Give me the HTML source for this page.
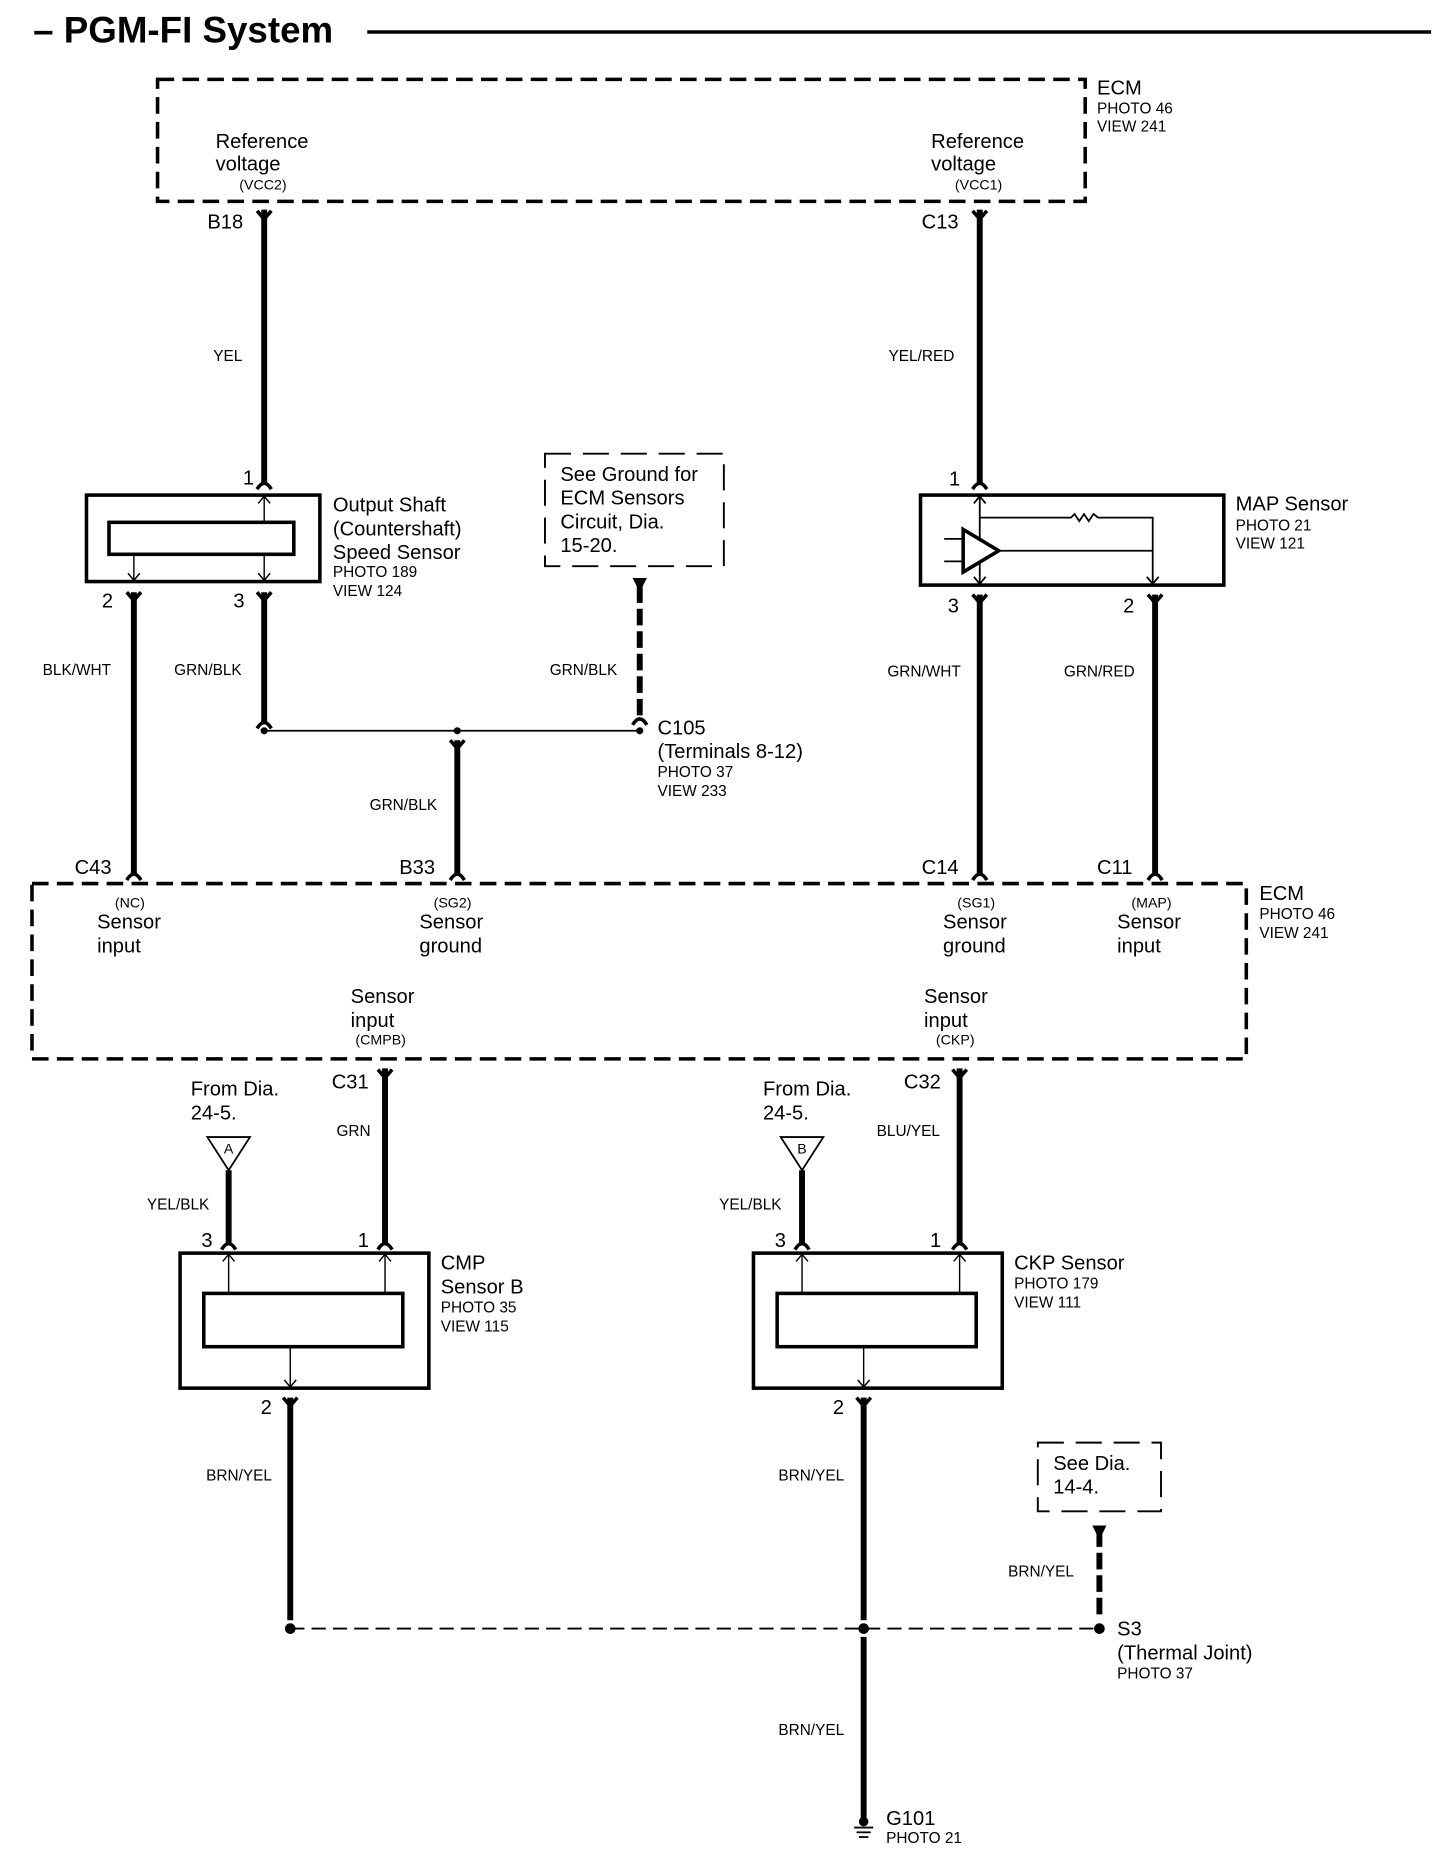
<!DOCTYPE html>
<html><head><style>
html,body{margin:0;padding:0;background:#fff;}
svg{display:block;}
text{font-family:"Liberation Sans",sans-serif;fill:#000;}
.b{font-size:17px;}
.s{font-size:13px;}
.xs{font-size:12px;}
</style></head><body>
<svg width="1456" height="1856" viewBox="0 0 1229 1567" preserveAspectRatio="none" xmlns="http://www.w3.org/2000/svg">
<defs>
<g id="fy"><path d="M-6,-7 L0,0 L6,-7" fill="none" stroke="#000" stroke-width="3"/></g>
<g id="fa"><path d="M-6,6 Q0,-4 6,6" fill="none" stroke="#000" stroke-width="3"/></g>
</defs>
<!-- title -->
<text x="28" y="36" font-size="31" font-weight="bold">– PGM-FI System</text>
<line x1="310" y1="27" x2="1208" y2="27" stroke="#000" stroke-width="3"/>

<g fill="none" stroke="#000">
<rect x="133" y="67" width="783" height="103" stroke-width="3" stroke-dasharray="14,7"/>
<rect x="27" y="746" width="1025" height="148" stroke-width="3" stroke-dasharray="14,7"/>
<rect x="460" y="383" width="151" height="95" stroke-width="1.6" stroke-dasharray="22,10"/>
<rect x="876" y="1218" width="104" height="58" stroke-width="1.6" stroke-dasharray="22,10"/>

<g stroke-width="5">
<line x1="223" y1="177" x2="223" y2="408"/>
<line x1="827" y1="177" x2="827" y2="408"/>
<line x1="113" y1="500" x2="113" y2="738"/>
<line x1="223" y1="500" x2="223" y2="610"/>
<line x1="386" y1="625" x2="386" y2="738"/>
<line x1="827" y1="502" x2="827" y2="738"/>
<line x1="975" y1="502" x2="975" y2="738"/>
<line x1="325" y1="902" x2="325" y2="1050"/>
<line x1="810" y1="902" x2="810" y2="1050"/>
<line x1="193" y1="988" x2="193" y2="1050"/>
<line x1="677" y1="988" x2="677" y2="1050"/>
<line x1="245" y1="1180" x2="245" y2="1368"/>
<line x1="729" y1="1180" x2="729" y2="1368"/>
<line x1="729" y1="1382" x2="729" y2="1537"/>
<line x1="540" y1="495" x2="540" y2="608" stroke-dasharray="14,5"/>
<line x1="928" y1="1292" x2="928" y2="1368" stroke-dasharray="14,5"/>
</g>
<line x1="223" y1="617" x2="540" y2="617" stroke-width="1.5"/>
<line x1="245" y1="1375" x2="928" y2="1375" stroke-width="1.6" stroke-dasharray="12,6"/>

<rect x="73" y="418" width="197" height="73" stroke-width="3"/>
<rect x="92" y="441" width="156" height="27" stroke-width="3"/>
<g stroke-width="1.2">
<line x1="223" y1="441" x2="223" y2="419"/><path d="M218,425 L223,419 L228,425"/>
<line x1="113" y1="468" x2="113" y2="490"/><path d="M108,484 L113,490 L118,484"/>
<line x1="223" y1="468" x2="223" y2="490"/><path d="M218,484 L223,490 L228,484"/>
</g>

<rect x="777" y="418" width="256" height="76" stroke-width="3"/>
<g stroke-width="1.5">
<line x1="827" y1="419" x2="827" y2="493"/><path d="M822,425 L827,419 L832,425"/><path d="M822,487 L827,493 L832,487"/>
<path d="M827,437 L904,437 L907,434 L911,440 L915,434 L919,440 L923,434 L927,437 L973,437 L973,493"/>
<path d="M968,487 L973,493 L978,487"/>
<line x1="843" y1="465" x2="973" y2="465"/>
<line x1="797" y1="455" x2="813" y2="455"/><line x1="797" y1="474" x2="813" y2="474"/>
</g>
<path d="M813,447 L813,483 L843,465 Z" stroke-width="3" fill="#fff"/>

<rect x="152" y="1058" width="210" height="114" stroke-width="3"/>
<rect x="172" y="1092" width="168" height="45" stroke-width="3"/>
<rect x="636" y="1058" width="210" height="114" stroke-width="3"/>
<rect x="656" y="1092" width="168" height="45" stroke-width="3"/>
<g stroke-width="1.2">
<line x1="193" y1="1092" x2="193" y2="1059"/><path d="M188,1065 L193,1059 L198,1065"/>
<line x1="325" y1="1092" x2="325" y2="1059"/><path d="M320,1065 L325,1059 L330,1065"/>
<line x1="245" y1="1137" x2="245" y2="1171"/><path d="M240,1165 L245,1171 L250,1165"/>
<line x1="677" y1="1092" x2="677" y2="1059"/><path d="M672,1065 L677,1059 L682,1065"/>
<line x1="810" y1="1092" x2="810" y2="1059"/><path d="M805,1065 L810,1059 L815,1065"/>
<line x1="729" y1="1137" x2="729" y2="1171"/><path d="M724,1165 L729,1171 L734,1165"/>
</g>
<path d="M175,960 L211,960 L193,988 Z" stroke-width="1.5"/>
<path d="M659,960 L695,960 L677,988 Z" stroke-width="1.5"/>
<g stroke-width="1.5"><line x1="721" y1="1543" x2="737" y2="1543"/><line x1="723" y1="1547" x2="735" y2="1547"/><line x1="725" y1="1551" x2="733" y2="1551"/></g>
</g>

<use href="#fy" x="223" y="185"/><use href="#fy" x="827" y="185"/>
<use href="#fa" x="223" y="407"/><use href="#fa" x="827" y="407"/>
<use href="#fy" x="113" y="507"/><use href="#fy" x="223" y="507"/>
<use href="#fy" x="827" y="509"/><use href="#fy" x="975" y="509"/>
<use href="#fa" x="223" y="609"/><use href="#fy" x="386" y="632"/><use href="#fa" x="540" y="606"/>
<use href="#fa" x="113" y="737"/><use href="#fa" x="386" y="737"/><use href="#fa" x="827" y="737"/><use href="#fa" x="975" y="737"/>
<use href="#fy" x="325" y="910"/><use href="#fy" x="810" y="910"/>
<use href="#fa" x="193" y="1049"/><use href="#fa" x="325" y="1049"/><use href="#fa" x="677" y="1049"/><use href="#fa" x="810" y="1049"/>
<use href="#fy" x="245" y="1187"/><use href="#fy" x="729" y="1187"/>
<path d="M534,488 L546,488 L540,500 Z"/><path d="M922,1288 L934,1288 L928,1300 Z"/>
<circle cx="223" cy="617" r="3"/><circle cx="386" cy="617" r="3"/><circle cx="540" cy="617" r="3"/>
<circle cx="245" cy="1375" r="4.5"/><circle cx="729" cy="1375" r="4.5"/><circle cx="928" cy="1375" r="4.5"/>
<circle cx="729" cy="1538" r="4"/>

<text class="b" x="926" y="80">ECM</text><text class="s" x="926" y="96">PHOTO 46</text><text class="s" x="926" y="111">VIEW 241</text>
<text class="b" x="182" y="125">Reference</text><text class="b" x="182" y="144">voltage</text><text class="xs" x="202" y="160">(VCC2)</text>
<text class="b" x="786" y="125">Reference</text><text class="b" x="786" y="144">voltage</text><text class="xs" x="806" y="160">(VCC1)</text>
<text class="b" x="175" y="193">B18</text><text class="b" x="778" y="193">C13</text>
<text class="s" x="180" y="305">YEL</text><text class="s" x="750" y="305">YEL/RED</text>
<text class="b" x="205" y="409">1</text><text class="b" x="86" y="513">2</text><text class="b" x="197" y="513">3</text>
<text class="b" x="281" y="432">Output Shaft</text><text class="b" x="281" y="452">(Countershaft)</text><text class="b" x="281" y="472">Speed Sensor</text>
<text class="s" x="281" y="487">PHOTO 189</text><text class="s" x="281" y="503">VIEW 124</text>
<text class="b" x="473" y="406">See Ground for</text><text class="b" x="473" y="426">ECM Sensors</text><text class="b" x="473" y="446">Circuit, Dia.</text><text class="b" x="473" y="466">15-20.</text>
<text class="b" x="801" y="410">1</text><text class="b" x="800" y="517">3</text><text class="b" x="948" y="517">2</text>
<text class="b" x="1043" y="431">MAP Sensor</text><text class="s" x="1043" y="448">PHOTO 21</text><text class="s" x="1043" y="463">VIEW 121</text>
<text class="s" x="36" y="570">BLK/WHT</text><text class="s" x="147" y="570">GRN/BLK</text><text class="s" x="464" y="570">GRN/BLK</text>
<text class="s" x="749" y="571">GRN/WHT</text><text class="s" x="898" y="571">GRN/RED</text><text class="s" x="312" y="684">GRN/BLK</text>
<text class="b" x="555" y="620">C105</text><text class="b" x="555" y="640">(Terminals 8-12)</text><text class="s" x="555" y="656">PHOTO 37</text><text class="s" x="555" y="672">VIEW 233</text>
<text class="b" x="63" y="738">C43</text><text class="b" x="337" y="738">B33</text><text class="b" x="778" y="738">C14</text><text class="b" x="926" y="738">C11</text>
<text class="b" x="1063" y="760">ECM</text><text class="s" x="1063" y="776">PHOTO 46</text><text class="s" x="1063" y="792">VIEW 241</text>
<text class="xs" x="97" y="766">(NC)</text><text class="b" x="82" y="784">Sensor</text><text class="b" x="82" y="804">input</text>
<text class="xs" x="366" y="766">(SG2)</text><text class="b" x="354" y="784">Sensor</text><text class="b" x="354" y="804">ground</text>
<text class="xs" x="808" y="766">(SG1)</text><text class="b" x="796" y="784">Sensor</text><text class="b" x="796" y="804">ground</text>
<text class="xs" x="955" y="766">(MAP)</text><text class="b" x="943" y="784">Sensor</text><text class="b" x="943" y="804">input</text>
<text class="b" x="296" y="847">Sensor</text><text class="b" x="296" y="867">input</text><text class="xs" x="300" y="882">(CMPB)</text>
<text class="b" x="780" y="847">Sensor</text><text class="b" x="780" y="867">input</text><text class="xs" x="790" y="882">(CKP)</text>
<text class="b" x="280" y="919">C31</text><text class="b" x="763" y="919">C32</text>
<text class="b" x="161" y="925">From Dia.</text><text class="b" x="161" y="945">24-5.</text>
<text class="b" x="644" y="925">From Dia.</text><text class="b" x="644" y="945">24-5.</text>
<text class="xs" x="189" y="974">A</text><text class="xs" x="673" y="974">B</text>
<text class="s" x="284" y="959">GRN</text><text class="s" x="740" y="959">BLU/YEL</text>
<text class="s" x="124" y="1021">YEL/BLK</text><text class="s" x="607" y="1021">YEL/BLK</text>
<text class="b" x="170" y="1053">3</text><text class="b" x="302" y="1053">1</text><text class="b" x="654" y="1053">3</text><text class="b" x="785" y="1053">1</text>
<text class="b" x="372" y="1072">CMP</text><text class="b" x="372" y="1092">Sensor B</text><text class="s" x="372" y="1108">PHOTO 35</text><text class="s" x="372" y="1124">VIEW 115</text>
<text class="b" x="856" y="1072">CKP Sensor</text><text class="s" x="856" y="1088">PHOTO 179</text><text class="s" x="856" y="1104">VIEW 111</text>
<text class="b" x="220" y="1194">2</text><text class="b" x="703" y="1194">2</text>
<text class="s" x="174" y="1250">BRN/YEL</text><text class="s" x="657" y="1250">BRN/YEL</text>
<text class="b" x="889" y="1241">See Dia.</text><text class="b" x="889" y="1261">14-4.</text>
<text class="s" x="851" y="1331">BRN/YEL</text>
<text class="b" x="943" y="1381">S3</text><text class="b" x="943" y="1401">(Thermal Joint)</text><text class="s" x="943" y="1417">PHOTO 37</text>
<text class="s" x="657" y="1465">BRN/YEL</text>
<text class="b" x="748" y="1541">G101</text><text class="s" x="748" y="1556">PHOTO 21</text>
</svg>
</body></html>
